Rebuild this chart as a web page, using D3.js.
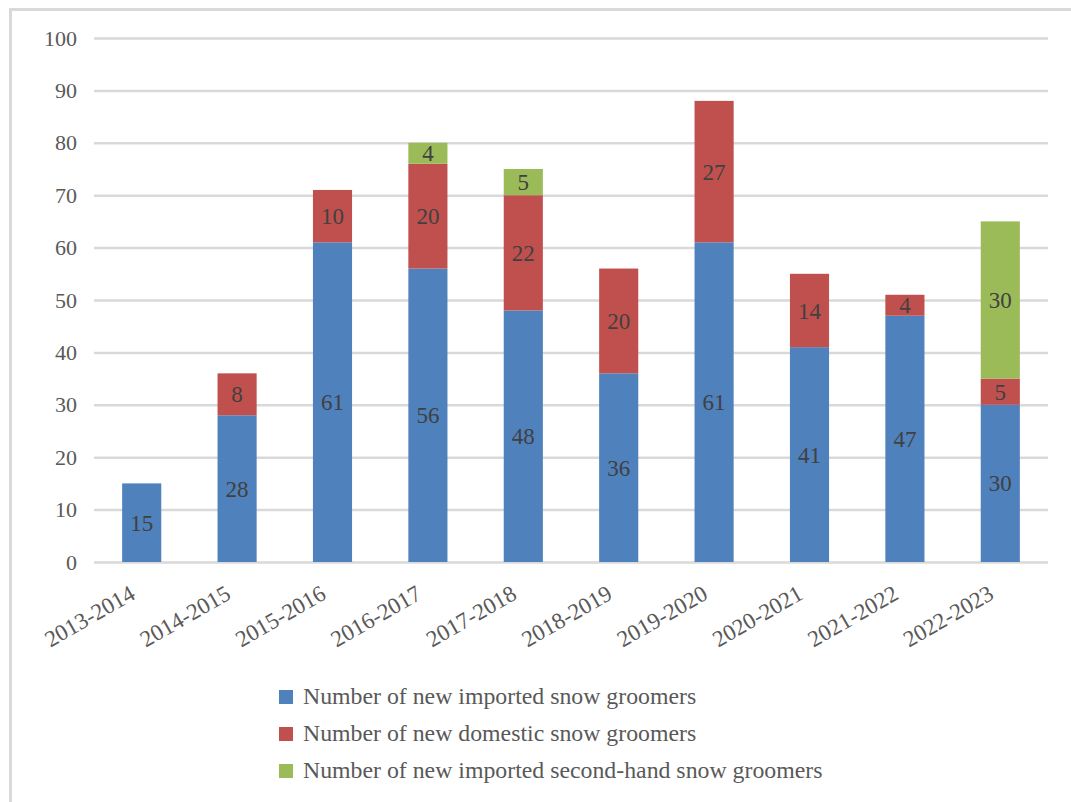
<!DOCTYPE html>
<html>
<head>
<meta charset="utf-8">
<script src="https://cdn.jsdelivr.net/npm/d3@7"></script>
<style>
  body { margin: 0; background: #fff; }
  svg text { font-family: "Liberation Serif", "Times New Roman", serif !important; }
</style>
</head>
<body>
<div id="root"></div>
<script>
const WIDTH = 1071
const HEIGHT = 802
const PLOT = { left: 94, right: 1048, top: 38, bottom: 562 }
const FONT = '"Liberation Serif", "Times New Roman", serif'

const seasons = ['2013-2014', '2014-2015', '2015-2016', '2016-2017', '2017-2018',
  '2018-2019', '2019-2020', '2020-2021', '2021-2022', '2022-2023']
const imported = [15, 28, 61, 56, 48, 36, 61, 41, 47, 30]
const domestic = [0, 8, 10, 20, 22, 20, 27, 14, 4, 5]
const secondHand = [0, 0, 0, 4, 5, 0, 0, 0, 0, 30]
const yTicks = [0, 10, 20, 30, 40, 50, 60, 70, 80, 90, 100]

const seriesInfo = [
  { key: 'imported', label: 'Number of new imported snow groomers', color: '#4f81bd' },
  { key: 'domestic', label: 'Number of new domestic snow groomers', color: '#c0504d' },
  { key: 'secondHand', label: 'Number of new imported second-hand snow groomers', color: '#9bbb59' }
]

const rows = seasons.map((s, i) => ({
  season: s,
  imported: imported[i],
  domestic: domestic[i],
  secondHand: secondHand[i]
}))

const stacked = d3.stack().keys(seriesInfo.map(d => d.key))(rows)

const x = d3.scaleBand()
  .domain(seasons)
  .range([PLOT.left, PLOT.right])
  .paddingInner(0.59)
  .paddingOuter(0.295)

const y = d3.scaleLinear()
  .domain([0, 100])
  .range([PLOT.bottom, PLOT.top])

const svg = d3.select('#root')
  .append('svg')
  .attr('width', WIDTH)
  .attr('height', HEIGHT)
  .attr('font-family', FONT)

// chart border (runs off the right and bottom edges)
svg.append('rect')
  .attr('x', 10.5)
  .attr('y', 9.5)
  .attr('width', WIDTH + 20)
  .attr('height', HEIGHT + 20)
  .attr('fill', 'none')
  .attr('stroke', '#d9d9d9')
  .attr('stroke-width', 3)

// gridlines + y labels
const yAxis = d3.axisLeft(y)
  .tickValues(yTicks)
  .tickSize(-(PLOT.right - PLOT.left))
  .tickPadding(17)

const yG = svg.append('g')
  .attr('transform', `translate(${PLOT.left}, 0)`)
  .call(yAxis)
  .attr('font-family', FONT)
  .attr('font-size', 22)
yG.select('.domain').remove()
yG.selectAll('line').attr('stroke', '#d9d9d9').attr('stroke-width', 2.5)
yG.selectAll('text').attr('fill', '#595959')

// bars
const layer = svg.selectAll('.layer')
  .data(stacked)
  .enter()
  .append('g')
  .attr('fill', (d, i) => seriesInfo[i].color)

layer.selectAll('rect')
  .data(d => d.filter(v => v[1] - v[0] > 0))
  .enter()
  .append('rect')
  .attr('x', d => x(d.data.season))
  .attr('width', x.bandwidth())
  .attr('y', d => y(d[1]))
  .attr('height', d => y(d[0]) - y(d[1]))

layer.selectAll('text')
  .data(d => d.filter(v => v[1] - v[0] > 0))
  .enter()
  .append('text')
  .attr('x', d => x(d.data.season) + x.bandwidth() / 2)
  .attr('y', d => (y(d[0]) + y(d[1])) / 2)
  .attr('dy', '0.35em')
  .attr('text-anchor', 'middle')
  .attr('fill', '#404040')
  .attr('font-size', 23)
  .text(d => d[1] - d[0])

// x labels
const xAxis = d3.axisBottom(x).tickSize(0).tickPadding(0)
const xG = svg.append('g')
  .attr('transform', `translate(0, ${PLOT.bottom})`)
  .call(xAxis)
  .attr('font-family', FONT)
  .attr('font-size', 23)
xG.select('.domain').remove()
xG.selectAll('text')
  .attr('fill', '#595959')
  .attr('text-anchor', 'end')
  .attr('dy', 0)
  .attr('y', 0)
  .attr('transform', 'translate(-5, 36) rotate(-30)')

// legend
const legend = svg.append('g')
  .selectAll('g')
  .data(seriesInfo)
  .enter()
  .append('g')
  .attr('transform', (d, i) => `translate(279, ${690 + i * 37})`)

legend.append('rect')
  .attr('width', 14)
  .attr('height', 14)
  .attr('fill', d => d.color)

legend.append('text')
  .attr('x', 24)
  .attr('y', 14)
  .attr('fill', '#595959')
  .attr('font-size', 23.8)
  .text(d => d.label)
</script>
</body>
</html>
